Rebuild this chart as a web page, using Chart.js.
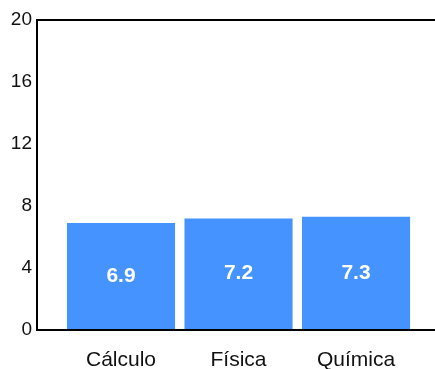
<!DOCTYPE html>
<html>
<head>
<meta charset="utf-8">
<script src="https://cdn.jsdelivr.net/npm/chart.js@4/dist/chart.umd.min.js"></script>
<style>
  html, body { margin: 0; padding: 0; background: #fff; }
  #wrap { width: 435px; height: 369px; }
</style>
</head>
<body>
<div id="wrap"><canvas id="chartGrades"></canvas></div>
<script>
/* --------------------------------------------
   Average grade per subject
--------------------------------------------- */

const subjects = ["Cálculo", "Física", "Química"];
const grades = [6.9, 7.2, 7.3];
const yTicks = [0, 4, 8, 12, 16, 20];

const FONT = "'Liberation Sans', Arial, Helvetica, sans-serif";

// white value labels in the middle of each bar
const barLabels = {
  id: "barLabels",
  afterDatasetsDraw(chart) {
    const ctx = chart.ctx;
    const meta = chart.getDatasetMeta(0);
    ctx.save();
    ctx.fillStyle = "#fff";
    ctx.font = "bold 21px " + FONT;
    ctx.textAlign = "center";
    ctx.textBaseline = "middle";
    meta.data.forEach((bar, i) => {
      const p = bar.getCenterPoint();
      ctx.fillText(grades[i].toFixed(1), p.x, p.y);
    });
    ctx.restore();
  }
};

new Chart(document.getElementById("chartGrades"), {
  type: "bar",
  data: {
    datasets: [{
      data: grades.map((g, i) => ({ x: i + 1, y: g })),
      backgroundColor: "#4493ff",
      borderWidth: 0,
      categoryPercentage: 1,
      barPercentage: 0.92
    }]
  },
  options: {
    responsive: true,
    maintainAspectRatio: false,
    animation: false,
    layout: { padding: { top: 20, right: 0, left: 0, bottom: 0 } },
    plugins: {
      legend: { display: false },
      tooltip: { enabled: false }
    },
    scales: {
      x: {
        type: "linear",
        offset: false,
        min: 0.285,
        max: 3.672,
        afterBuildTicks: s => { s.ticks = subjects.map((c, i) => ({ value: i + 1 })); },
        afterFit: s => { s.height = 39; },
        grid: { display: false },
        border: { color: "#000", width: 2 },
        ticks: {
          color: "#111",
          font: { family: FONT, size: 21 },
          padding: 10,
          maxRotation: 0,
          callback: v => subjects[v - 1]
        }
      },
      y: {
        min: 0,
        max: 20,
        afterBuildTicks: s => { s.ticks = yTicks.map(v => ({ value: v })); },
        afterFit: s => { s.width = 37; },
        grid: {
          drawTicks: false,
          lineWidth: 2,
          color: c => (c.tick && c.tick.value === 20 ? "#000" : "rgba(0,0,0,0)")
        },
        border: { color: "#000", width: 2 },
        ticks: {
          color: "#111",
          font: { family: FONT, size: 19 },
          padding: 5
        }
      }
    }
  },
  plugins: [barLabels]
});
</script>
</body>
</html>
